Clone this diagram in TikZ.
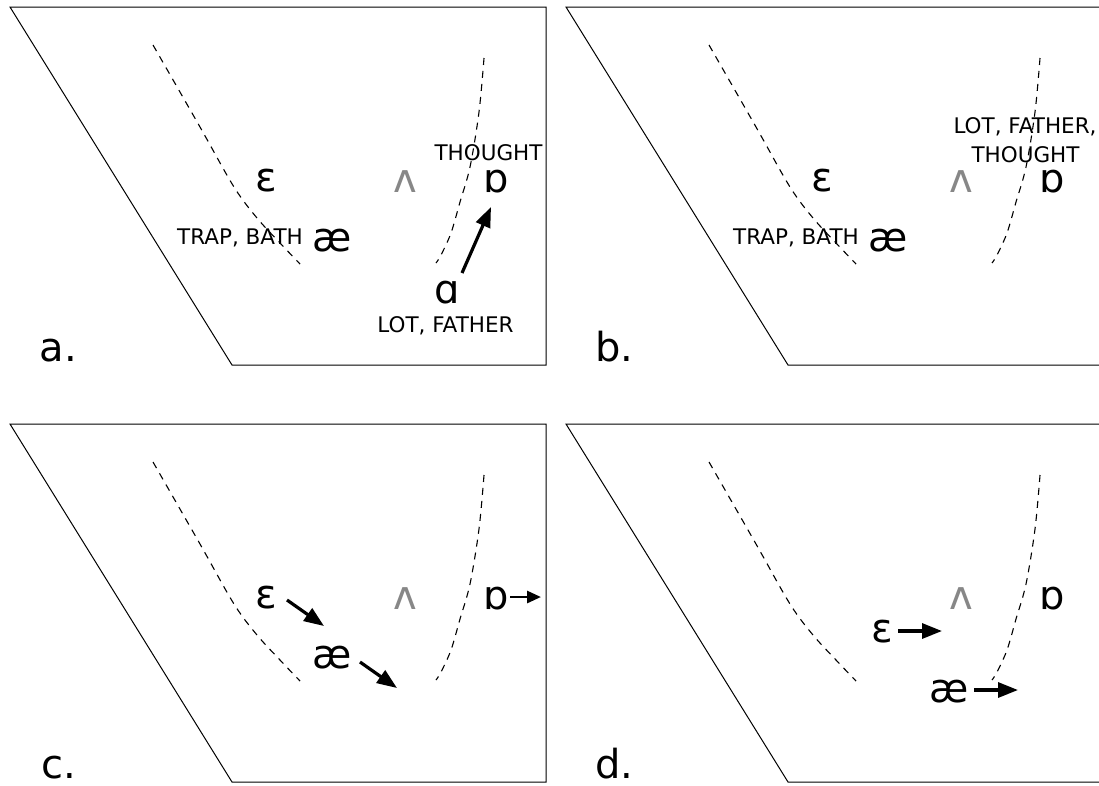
\documentclass[tikz,border=0pt]{standalone}
\usepackage{fontspec}
\setmainfont{DejaVu Sans}
\usetikzlibrary{arrows.meta}
\definecolor{wedgegray}{gray}{0.53}
\newcommand\vowelframe{%
  \draw[frame] (10,7) -- (546,7) -- (546,365) -- (232,365) -- cycle;
  \draw[curve] plot[smooth, tension=0.55] coordinates {(153,45) (200,127) (234,187) (257,218) (280,243) (300,264)};
  \draw[curve] plot[smooth, tension=0.55] coordinates {(484,58) (479,112) (470,167) (460,202) (451,233) (441,255) (436,263)};
}
\begin{document}
\begin{tikzpicture}[x=1pt,y=-1pt,
  frame/.style={line width=1pt, line join=miter},
  curve/.style={line width=1.1pt, dash pattern=on 7pt off 6pt},
  vowel/.style={font=\fontsize{40}{48}\selectfont, inner sep=0pt, anchor=base, text depth=0pt},
  lbl/.style={font=\fontsize{21.5}{26}\selectfont, inner sep=0pt, anchor=base, text depth=0pt},
  panel/.style={font=\fontsize{40}{48}\selectfont, inner sep=0pt, anchor=base, text depth=0pt},
  shiftarrow/.style={line width=3.2pt, -{Triangle[length=20pt,width=15pt]}},
  smallarrow/.style={line width=2.8pt, -{Triangle[length=14pt,width=12pt]}}]
\clip (0,0) rectangle (1099,785);
\fill[white] (0,0) rectangle (1099,785);

% ---------- panel a ----------
\begin{scope}
  \vowelframe
  \node[vowel] (epsa) at (266.5,191) {ɛ};
  \node[vowel, text=wedgegray] (wedgea) at (405.5,192) {ʌ};
  \node[vowel] (aea) at (332.5,251) {æ};
  \node[lbl, anchor=base east] (trapa) at (303,244) {TRAP, BATH};
  \node[vowel] (opena) at (496.5,192) {ɒ};
  \node[lbl] (thoughta) at (488.5,160) {THOUGHT};
  \node[vowel] (alphaa) at (447.5,303) {ɑ};
  \node[lbl] (lota) at (445.5,332) {LOT, FATHER};
  \node[panel] (pa) at (58.5,361) {a.};
  \coordinate (atail) at (462,273);
  \coordinate (atip) at (491,207);
  \draw[shiftarrow] (atail) -- (atip);
\end{scope}

% ---------- panel b ----------
\begin{scope}[shift={(556,0)}]
  \vowelframe
  \node[vowel] (epsb) at (266.5,191) {ɛ};
  \node[vowel, text=wedgegray] (wedgeb) at (405.5,192) {ʌ};
  \node[vowel] (aeb) at (332.5,251) {æ};
  \node[lbl, anchor=base east] (trapb) at (303,244) {TRAP, BATH};
  \node[vowel] (openb) at (496.5,192) {ɒ};
  \node[lbl] (lotb) at (469,133) {LOT, FATHER,};
  \node[lbl] (thoughtb) at (469.5,162) {THOUGHT};
  \node[panel] (pb) at (58.5,361) {b.};
\end{scope}

% ---------- panel c ----------
\begin{scope}[shift={(0,417)}]
  \vowelframe
  \node[vowel] (epsc) at (266.5,191) {ɛ};
  \node[vowel, text=wedgegray] (wedgec) at (405.5,192) {ʌ};
  \node[vowel] (aec) at (332.5,251) {æ};
  \node[vowel] (openc) at (496.5,192) {ɒ};
  \node[panel] (pc) at (58.5,361) {c.};
  \coordinate (c1tail) at (287,183);
  \coordinate (c1tip) at (324,209);
  \coordinate (c2tail) at (360,245);
  \coordinate (c2tip) at (397,271);
  \coordinate (c3tail) at (510,180);
  \coordinate (c3tip) at (541,180);
  \draw[shiftarrow] (c1tail) -- (c1tip);
  \draw[shiftarrow] (c2tail) -- (c2tip);
  \draw[smallarrow] (c3tail) -- (c3tip);
\end{scope}

% ---------- panel d ----------
\begin{scope}[shift={(556,417)}]
  \vowelframe
  \node[vowel, text=wedgegray] (wedged) at (405.5,192) {ʌ};
  \node[vowel] (opend) at (496.5,192) {ɒ};
  \node[vowel] (epsd) at (326,225) {ɛ};
  \node[vowel] (aed) at (393,285) {æ};
  \node[panel] (pd) at (58.5,361) {d.};
  \coordinate (d1tail) at (342,214);
  \coordinate (d1tip) at (386,214);
  \coordinate (d2tail) at (418,273);
  \coordinate (d2tip) at (462,273);
  \draw[shiftarrow] (d1tail) -- (d1tip);
  \draw[shiftarrow] (d2tail) -- (d2tip);
\end{scope}
\end{tikzpicture}
\end{document}
